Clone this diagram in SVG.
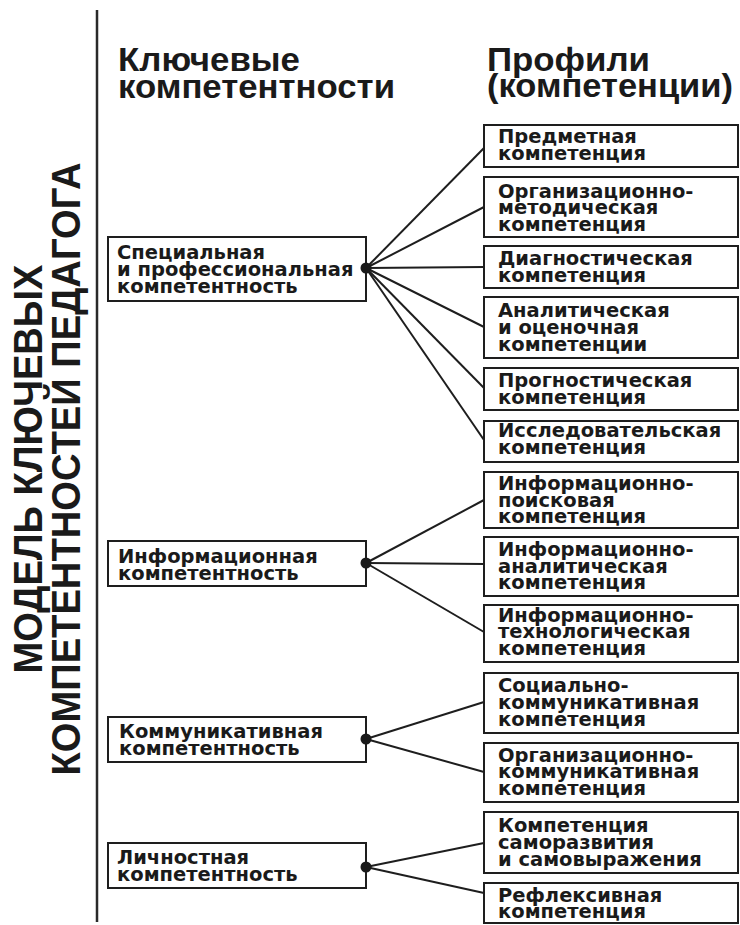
<svg xmlns="http://www.w3.org/2000/svg" width="740" height="925" viewBox="0 0 740 925">
<style>
.bg{fill:#ffffff}
.box{fill:#ffffff;stroke:#1e1e1e;stroke-width:2}
.t{font-family:"DejaVu Sans","Liberation Sans",sans-serif;font-weight:bold;font-size:19.5px;fill:#1a1a1a}
.h{font-family:"Liberation Sans",Arial,sans-serif;font-weight:bold;font-size:33px;fill:#1a1a1a}
.title{font-family:"Liberation Sans",Arial,sans-serif;font-weight:bold;font-size:41px;fill:#1a1a1a}
.ln{stroke:#1e1e1e;stroke-width:2;fill:none}
.dot{fill:#1a1a1a}
</style>
<rect class="bg" x="0" y="0" width="740" height="925"/>

<g id="title">
<text class="title" text-anchor="middle" transform="translate(42,469) rotate(-90)" textLength="409" lengthAdjust="spacingAndGlyphs">МОДЕЛЬ КЛЮЧЕВЫХ</text>
<text class="title" text-anchor="middle" transform="translate(80,469) rotate(-90)" textLength="613" lengthAdjust="spacingAndGlyphs">КОМПЕТЕНТНОСТЕЙ ПЕДАГОГА</text>
<line x1="97" y1="10" x2="97" y2="922" stroke="#2a2a2a" stroke-width="2.5"/>
</g>

<g id="header-key">
<text class="h"><tspan x="118" y="71" textLength="182" lengthAdjust="spacingAndGlyphs">Ключевые</tspan><tspan x="118" y="98" textLength="277" lengthAdjust="spacingAndGlyphs">компетентности</tspan></text>
</g>
<g id="header-profiles">
<text class="h"><tspan x="487" y="71" textLength="163" lengthAdjust="spacingAndGlyphs">Профили</tspan><tspan x="487" y="97" textLength="246" lengthAdjust="spacingAndGlyphs">(компетенции)</tspan></text>
</g>

<g id="connectors">
<line class="ln" x1="366" y1="268" x2="484" y2="148"/>
<line class="ln" x1="366" y1="268" x2="484" y2="207"/>
<line class="ln" x1="366" y1="268" x2="484" y2="267"/>
<line class="ln" x1="366" y1="268" x2="484" y2="327"/>
<line class="ln" x1="366" y1="268" x2="484" y2="388"/>
<line class="ln" x1="366" y1="268" x2="484" y2="440"/>
<line class="ln" x1="366" y1="563" x2="484" y2="500"/>
<line class="ln" x1="366" y1="563" x2="484" y2="564"/>
<line class="ln" x1="366" y1="563" x2="484" y2="632"/>
<line class="ln" x1="366" y1="739" x2="484" y2="702"/>
<line class="ln" x1="366" y1="739" x2="484" y2="772"/>
<line class="ln" x1="366" y1="867" x2="484" y2="843"/>
<line class="ln" x1="366" y1="867" x2="484" y2="893"/>
</g>

<g id="k-special">
<rect class="box" x="108" y="237" width="258" height="64"/>
<text class="t"><tspan x="117" y="259">Специальная</tspan><tspan x="117" y="276">и профессиональная</tspan><tspan x="117" y="293">компетентность</tspan></text>
<circle class="dot" cx="366" cy="268" r="5.5"/>
</g>
<g id="k-info">
<rect class="box" x="108" y="541" width="258" height="45"/>
<text class="t"><tspan x="118" y="563">Информационная</tspan><tspan x="118" y="580">компетентность</tspan></text>
<circle class="dot" cx="366" cy="563" r="5.5"/>
</g>
<g id="k-comm">
<rect class="box" x="108" y="717" width="258" height="45"/>
<text class="t"><tspan x="119" y="738">Коммуникативная</tspan><tspan x="119" y="755">компетентность</tspan></text>
<circle class="dot" cx="366" cy="739" r="5.5"/>
</g>
<g id="k-pers">
<rect class="box" x="108" y="843" width="258" height="45"/>
<text class="t"><tspan x="117" y="864">Личностная</tspan><tspan x="117" y="881">компетентность</tspan></text>
<circle class="dot" cx="366" cy="867" r="5.5"/>
</g>

<g id="p-subject">
<rect class="box" x="484" y="125" width="254" height="42"/>
<text class="t"><tspan x="498" y="143">Предметная</tspan><tspan x="498" y="160">компетенция</tspan></text>
</g>
<g id="p-orgmethod">
<rect class="box" x="484" y="177" width="254" height="60"/>
<text class="t"><tspan x="498" y="198">Организационно-</tspan><tspan x="498" y="214">методическая</tspan><tspan x="498" y="231">компетенция</tspan></text>
</g>
<g id="p-diag">
<rect class="box" x="484" y="246" width="254" height="42"/>
<text class="t"><tspan x="498" y="265">Диагностическая</tspan><tspan x="498" y="282">компетенция</tspan></text>
</g>
<g id="p-analyt">
<rect class="box" x="484" y="297" width="254" height="61"/>
<text class="t"><tspan x="498" y="317">Аналитическая</tspan><tspan x="498" y="334">и оценочная</tspan><tspan x="498" y="351">компетенции</tspan></text>
</g>
<g id="p-prog">
<rect class="box" x="484" y="368" width="254" height="42"/>
<text class="t"><tspan x="498" y="387">Прогностическая</tspan><tspan x="498" y="404">компетенция</tspan></text>
</g>
<g id="p-research">
<rect class="box" x="484" y="421" width="254" height="41"/>
<text class="t"><tspan x="498" y="437">Исследовательская</tspan><tspan x="498" y="454">компетенция</tspan></text>
</g>
<g id="p-infosearch">
<rect class="box" x="484" y="472" width="254" height="56"/>
<text class="t"><tspan x="498" y="490">Информационно-</tspan><tspan x="498" y="507">поисковая</tspan><tspan x="498" y="523">компетенция</tspan></text>
</g>
<g id="p-infoanalyt">
<rect class="box" x="484" y="537" width="254" height="59"/>
<text class="t"><tspan x="498" y="556">Информационно-</tspan><tspan x="498" y="573">аналитическая</tspan><tspan x="498" y="589">компетенция</tspan></text>
</g>
<g id="p-infotech">
<rect class="box" x="484" y="605" width="254" height="57"/>
<text class="t"><tspan x="498" y="622">Информационно-</tspan><tspan x="498" y="638">технологическая</tspan><tspan x="498" y="655">компетенция</tspan></text>
</g>
<g id="p-socialcomm">
<rect class="box" x="484" y="673" width="254" height="60"/>
<text class="t"><tspan x="498" y="692">Социально-</tspan><tspan x="498" y="709">коммуникативная</tspan><tspan x="498" y="726">компетенция</tspan></text>
</g>
<g id="p-orgcomm">
<rect class="box" x="484" y="743" width="254" height="59"/>
<text class="t"><tspan x="498" y="762">Организационно-</tspan><tspan x="498" y="778">коммуникативная</tspan><tspan x="498" y="795">компетенция</tspan></text>
</g>
<g id="p-selfdev">
<rect class="box" x="484" y="812" width="254" height="61"/>
<text class="t"><tspan x="498" y="832">Компетенция</tspan><tspan x="498" y="849">саморазвития</tspan><tspan x="498" y="866">и самовыражения</tspan></text>
</g>
<g id="p-reflex">
<rect class="box" x="484" y="883" width="254" height="40"/>
<text class="t"><tspan x="498" y="902">Рефлексивная</tspan><tspan x="498" y="918">компетенция</tspan></text>
</g>
</svg>
